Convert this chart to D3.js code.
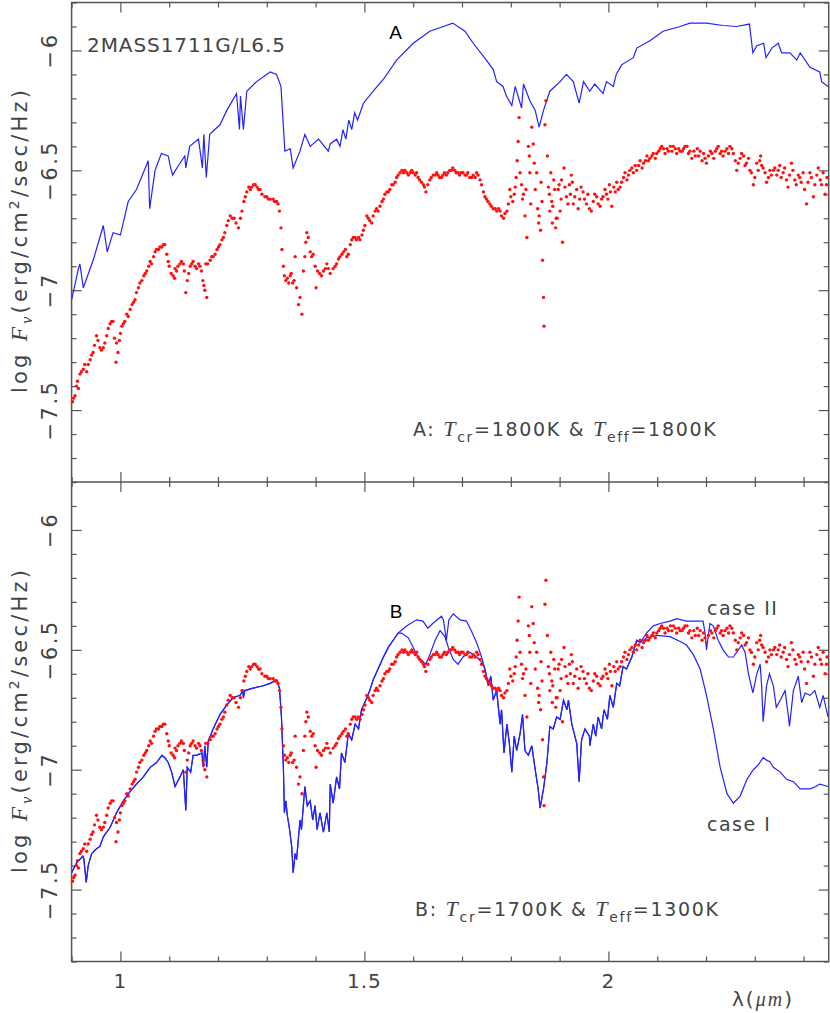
<!DOCTYPE html>
<html>
<head>
<meta charset="utf-8">
<script src="https://cdn.jsdelivr.net/npm/d3@7/dist/d3.min.js"></script>
<style>
  body { margin: 0; background: #fff; }
  svg text { font-family: "DejaVu Sans", "Liberation Sans", sans-serif; fill: #444; }
</style>
</head>
<body>
<svg id="chart"></svg>
<script>
// model spectrum, panel A  [wavelength (um), log F_nu]
const modelA = [[0.9,-7.04],[0.914,-6.91],[0.917,-6.89],[0.924,-6.99],[0.945,-6.87],[0.965,-6.73],[0.973,-6.84],[0.985,-6.76],[1.0,-6.77],
  [1.016,-6.63],[1.033,-6.58],[1.057,-6.46],[1.06,-6.66],[1.071,-6.50],[1.084,-6.43],[1.098,-6.44],[1.102,-6.48],[1.107,-6.52],[1.119,-6.48],
  [1.132,-6.44],[1.134,-6.49],[1.142,-6.40],[1.160,-6.37],[1.168,-6.49],[1.171,-6.35],[1.176,-6.53],[1.183,-6.35],[1.204,-6.31],[1.218,-6.25],
  [1.238,-6.18],[1.244,-6.33],[1.246,-6.19],[1.252,-6.33],[1.259,-6.17],[1.279,-6.13],[1.307,-6.09],[1.320,-6.10],[1.329,-6.15],[1.337,-6.42],
  [1.348,-6.41],[1.354,-6.49],[1.368,-6.42],[1.378,-6.35],[1.389,-6.40],[1.406,-6.37],[1.426,-6.42],[1.43,-6.39],[1.443,-6.37],[1.45,-6.40],
  [1.456,-6.33],[1.462,-6.37],[1.468,-6.29],[1.474,-6.33],[1.48,-6.26],[1.486,-6.29],[1.498,-6.22],[1.518,-6.17],[1.539,-6.12],[1.566,-6.04],
  [1.600,-5.97],[1.634,-5.92],[1.662,-5.90],[1.681,-5.886],[1.706,-5.92],[1.723,-5.97],[1.750,-6.04],[1.764,-6.08],[1.771,-6.13],[1.784,-6.15],
  [1.791,-6.19],[1.802,-6.23],[1.809,-6.15],[1.822,-6.24],[1.826,-6.14],[1.839,-6.21],[1.850,-6.25],[1.858,-6.32],[1.867,-6.25],[1.880,-6.17],
  [1.901,-6.13],[1.914,-6.10],[1.928,-6.13],[1.940,-6.22],[1.949,-6.13],[1.962,-6.17],[1.972,-6.14],[1.989,-6.18],[1.996,-6.13],[2.010,-6.15],
  [2.016,-6.10],[2.027,-6.06],[2.051,-6.03],[2.058,-5.99],[2.085,-5.96],[2.112,-5.92],[2.147,-5.90],[2.167,-5.886],[2.201,-5.886],[2.235,-5.896],
  [2.263,-5.90],[2.289,-5.89],[2.296,-6.01],[2.304,-5.98],[2.318,-5.97],[2.323,-6.03],[2.335,-5.99],[2.348,-5.97],[2.355,-6.01],[2.372,-6.01],
  [2.386,-6.04],[2.393,-6.01],[2.413,-6.07],[2.433,-6.09],[2.437,-6.13],[2.45,-6.15]];

// observed spectrum of 2MASS1711 (drawn in both panels)
const observed = [[0.902,-7.465],[0.907,-7.44],[0.910,-7.40],[0.917,-7.35],[0.924,-7.33],[0.931,-7.34],[0.938,-7.29],[0.944,-7.26],[0.951,-7.19],
  [0.958,-7.24],[0.965,-7.24],[0.972,-7.19],[0.979,-7.14],[0.985,-7.13],[0.991,-7.30],[0.992,-7.22],[0.998,-7.21],[1.003,-7.15],[1.009,-7.13],
  [1.020,-7.08],[1.030,-7.04],[1.037,-6.99],[1.044,-6.96],[1.054,-6.92],[1.064,-6.89],[1.074,-6.83],[1.085,-6.82],[1.091,-6.81],[1.095,-6.85],
  [1.100,-6.90],[1.108,-6.94],[1.115,-6.92],[1.122,-6.89],[1.129,-6.89],[1.134,-7.01],[1.137,-6.96],[1.146,-6.89],[1.153,-6.90],[1.163,-6.90],
  [1.169,-6.96],[1.173,-7.00],[1.177,-7.03],[1.175,-6.89],[1.184,-6.875],[1.194,-6.85],[1.204,-6.81],[1.214,-6.76],[1.225,-6.69],[1.233,-6.70],
  [1.242,-6.74],[1.249,-6.67],[1.253,-6.63],[1.259,-6.59],[1.269,-6.57],[1.276,-6.56],[1.286,-6.58],[1.296,-6.61],[1.307,-6.62],[1.320,-6.63],
  [1.326,-6.67],[1.329,-6.74],[1.331,-6.83],[1.334,-6.90],[1.339,-6.96],[1.348,-6.94],[1.353,-6.97],[1.358,-6.86],[1.361,-6.99],[1.365,-7.06],
  [1.372,-7.10],[1.375,-6.92],[1.378,-6.86],[1.382,-6.76],[1.389,-6.84],[1.399,-6.90],[1.401,-6.99],[1.412,-6.94],[1.426,-6.91],[1.430,-6.93],
  [1.443,-6.89],[1.457,-6.84],[1.467,-6.85],[1.477,-6.78],[1.491,-6.79],[1.498,-6.75],[1.505,-6.69],[1.515,-6.72],[1.522,-6.67],[1.532,-6.65],
  [1.542,-6.60],[1.552,-6.58],[1.563,-6.55],[1.573,-6.51],[1.587,-6.51],[1.600,-6.51],[1.610,-6.53],[1.617,-6.55],[1.626,-6.59],[1.634,-6.54],
  [1.645,-6.52],[1.658,-6.53],[1.668,-6.52],[1.681,-6.49],[1.692,-6.51],[1.702,-6.51],[1.716,-6.53],[1.733,-6.52],[1.740,-6.56],[1.747,-6.61],
  [1.757,-6.64],[1.768,-6.66],[1.778,-6.67],[1.785,-6.70],[1.792,-6.67],[1.798,-6.58],[1.804,-6.63],[1.809,-6.57],[1.813,-6.46],[1.815,-6.38],
  [1.817,-6.28],[1.819,-6.51],[1.822,-6.56],[1.826,-6.60],[1.829,-6.69],[1.833,-6.78],[1.836,-6.40],[1.838,-6.44],[1.839,-6.51],[1.841,-6.64],
  [1.843,-6.32],[1.846,-6.39],[1.850,-6.58],[1.853,-6.51],[1.858,-6.69],[1.861,-6.75],[1.864,-6.63],[1.865,-6.875],[1.867,-7.03],[1.868,-7.15],
  [1.870,-6.31],[1.872,-6.21],[1.875,-6.44],[1.877,-6.57],[1.880,-6.67],[1.884,-6.63],[1.888,-6.54],[1.892,-6.74],[1.897,-6.58],[1.901,-6.67],
  [1.904,-6.54],[1.906,-6.80],[1.909,-6.49],[1.914,-6.61],[1.920,-6.56],[1.924,-6.52],[1.928,-6.64],[1.935,-6.58],[1.941,-6.62],[1.948,-6.59],
  [1.955,-6.64],[1.961,-6.66],[1.969,-6.63],[1.976,-6.61],[1.983,-6.65],[1.989,-6.61],[1.996,-6.60],[2.002,-6.56],[2.007,-6.65],[2.014,-6.59],
  [2.024,-6.57],[2.031,-6.53],[2.038,-6.54],[2.048,-6.49],[2.058,-6.50],[2.072,-6.47],[2.085,-6.45],[2.099,-6.43],[2.109,-6.40],[2.123,-6.42],
  [2.133,-6.40],[2.147,-6.42],[2.157,-6.40],[2.167,-6.42],[2.178,-6.44],[2.188,-6.42],[2.201,-6.47],[2.212,-6.43],[2.225,-6.40],[2.235,-6.44],
  [2.249,-6.40],[2.256,-6.43],[2.263,-6.50],[2.273,-6.43],[2.283,-6.47],[2.293,-6.51],[2.297,-6.56],[2.304,-6.47],[2.312,-6.44],[2.317,-6.49],
  [2.324,-6.55],[2.331,-6.50],[2.341,-6.49],[2.351,-6.48],[2.358,-6.51],[2.368,-6.57],[2.375,-6.47],[2.382,-6.54],[2.392,-6.53],[2.406,-6.64],
  [2.413,-6.51],[2.420,-6.61],[2.430,-6.49],[2.437,-6.56],[2.444,-6.60],[2.448,-6.53],
  [0.904,-7.45],[0.912,-7.38],[0.914,-7.41],[0.920,-7.34],[0.927,-7.31],[0.934,-7.31],[0.941,-7.27],[0.947,-7.23],[0.954,-7.21],[0.961,-7.25],
  [0.968,-7.22],[0.975,-7.16],[0.982,-7.13],[0.988,-7.20],[0.995,-7.26],[1.0,-7.18],[1.006,-7.14],[1.013,-7.10],[1.016,-7.11],[1.024,-7.06],
  [1.027,-7.05],[1.033,-7.01],[1.040,-6.97],[1.048,-6.94],[1.051,-6.93],[1.058,-6.90],[1.061,-6.88],[1.068,-6.86],[1.071,-6.84],[1.078,-6.83],
  [1.081,-6.82],[1.088,-6.81],[1.098,-6.88],[1.104,-6.93],[1.111,-6.95],[1.112,-6.91],[1.118,-6.90],[1.125,-6.88],[1.131,-6.92],[1.140,-6.93],
  [1.143,-6.90],[1.149,-6.88],[1.156,-6.91],[1.160,-6.89],[1.166,-6.92],[1.171,-6.98],[1.179,-6.89],[1.187,-6.86],[1.190,-6.86],[1.198,-6.83],
  [1.201,-6.82],[1.208,-6.79],[1.211,-6.78],[1.218,-6.73],[1.221,-6.71],[1.229,-6.70],[1.237,-6.72],[1.246,-6.70],[1.256,-6.61],[1.263,-6.57],
  [1.266,-6.58],[1.273,-6.56],[1.280,-6.57],[1.283,-6.58],[1.290,-6.60],[1.300,-6.61],[1.303,-6.62],[1.313,-6.62],[1.316,-6.63],[1.323,-6.64],
  [1.336,-6.94],[1.342,-6.95],[1.345,-6.97],[1.350,-6.93],[1.356,-6.96],[1.368,-7.03],[1.380,-6.80],[1.385,-6.78],[1.392,-6.86],[1.395,-6.85],
  [1.404,-6.92],[1.408,-6.93],[1.416,-6.92],[1.420,-6.91],[1.423,-6.89],[1.436,-6.91],[1.440,-6.90],[1.447,-6.87],[1.450,-6.86],[1.454,-6.85],
  [1.461,-6.83],[1.464,-6.86],[1.471,-6.81],[1.474,-6.79],[1.481,-6.78],[1.484,-6.79],[1.488,-6.78],[1.495,-6.77],[1.501,-6.73],[1.508,-6.70],
  [1.511,-6.71],[1.518,-6.69],[1.525,-6.66],[1.528,-6.67],[1.536,-6.63],[1.539,-6.62],[1.546,-6.59],[1.549,-6.59],[1.556,-6.56],[1.559,-6.56],
  [1.566,-6.53],[1.569,-6.52],[1.577,-6.50],[1.580,-6.51],[1.583,-6.50],[1.590,-6.52],[1.594,-6.51],[1.597,-6.50],[1.604,-6.52],[1.607,-6.51],
  [1.613,-6.54],[1.621,-6.56],[1.623,-6.57],[1.630,-6.56],[1.637,-6.53],[1.641,-6.52],[1.648,-6.51],[1.651,-6.52],[1.654,-6.53],[1.661,-6.52],
  [1.664,-6.51],[1.671,-6.51],[1.675,-6.50],[1.678,-6.50],[1.685,-6.50],[1.688,-6.51],[1.695,-6.52],[1.698,-6.51],[1.706,-6.52],[1.709,-6.52],
  [1.712,-6.51],[1.720,-6.53],[1.723,-6.52],[1.727,-6.53],[1.730,-6.51],[1.737,-6.54],[1.744,-6.59],[1.750,-6.62],[1.753,-6.63],[1.760,-6.65],
  [1.764,-6.66],[1.771,-6.67],[1.775,-6.66],[1.781,-6.69],[1.788,-6.68],[1.795,-6.64],[1.800,-6.61],[1.807,-6.60],[1.811,-6.53],[1.824,-6.62],
  [1.831,-6.58],[1.848,-6.47],[1.855,-6.66],[1.857,-6.72],[1.862,-6.55],[1.879,-6.60],[1.882,-6.51],[1.885,-6.72],[1.886,-6.65],[1.890,-6.58],
  [1.893,-6.70],[1.895,-6.70],[1.899,-6.56],[1.903,-6.62],[1.911,-6.57],[1.917,-6.64],[1.922,-6.60],[1.926,-6.55],[1.931,-6.61],[1.938,-6.66],
  [1.944,-6.57],[1.951,-6.62],[1.958,-6.60],[1.965,-6.67],[1.972,-6.60],[1.979,-6.64],[1.986,-6.62],[1.993,-6.58],[1.999,-6.62],[2.004,-6.59],
  [2.011,-6.57],[2.017,-6.55],[2.020,-6.58],[2.027,-6.55],[2.034,-6.51],[2.041,-6.52],[2.044,-6.50],[2.051,-6.51],[2.055,-6.48],[2.062,-6.48],
  [2.065,-6.46],[2.069,-6.49],[2.076,-6.46],[2.079,-6.44],[2.082,-6.46],[2.089,-6.44],[2.092,-6.43],[2.096,-6.45],[2.103,-6.42],[2.106,-6.41],
  [2.113,-6.41],[2.116,-6.43],[2.120,-6.41],[2.127,-6.40],[2.130,-6.42],[2.137,-6.41],[2.140,-6.43],[2.144,-6.41],[2.151,-6.42],[2.154,-6.41],
  [2.161,-6.40],[2.164,-6.43],[2.171,-6.45],[2.175,-6.42],[2.182,-6.41],[2.185,-6.44],[2.192,-6.46],[2.195,-6.43],[2.198,-6.45],[2.205,-6.44],
  [2.209,-6.42],[2.216,-6.45],[2.219,-6.42],[2.222,-6.41],[2.229,-6.43],[2.232,-6.42],[2.239,-6.42],[2.243,-6.41],[2.246,-6.43],[2.253,-6.41],
  [2.260,-6.46],[2.266,-6.47],[2.270,-6.45],[2.277,-6.44],[2.280,-6.48],[2.287,-6.45],[2.290,-6.50],[2.300,-6.53],[2.307,-6.50],[2.310,-6.46],
  [2.314,-6.48],[2.321,-6.51],[2.328,-6.53],[2.334,-6.52],[2.338,-6.50],[2.345,-6.52],[2.348,-6.50],[2.354,-6.53],[2.361,-6.49],[2.365,-6.54],
  [2.371,-6.52],[2.378,-6.50],[2.385,-6.56],[2.389,-6.52],[2.395,-6.55],[2.399,-6.51],[2.402,-6.58],[2.409,-6.55],[2.416,-6.53],[2.423,-6.56],
  [2.427,-6.52],[2.434,-6.54],[2.440,-6.51],[2.447,-6.56]];

// panel B models: shared pieces and the two cases
const sharedB1 = [[0.9,-7.43],[0.910,-7.39],[0.923,-7.36],[0.925,-7.37],[0.930,-7.47],[0.934,-7.40],[0.941,-7.35],[0.951,-7.33],[0.958,-7.32],
  [0.965,-7.28],[0.979,-7.24],[0.992,-7.18],[1.006,-7.13],[1.020,-7.09],[1.033,-7.06],[1.047,-7.03],[1.061,-6.99],[1.074,-6.97],[1.085,-6.94],
  [1.091,-6.95],[1.098,-6.97],[1.105,-7.01],[1.112,-7.07],[1.117,-7.05],[1.122,-7.03],[1.129,-7.00],[1.134,-7.17],[1.137,-6.99],[1.144,-7.01],
  [1.149,-6.94],[1.156,-6.94],[1.167,-6.93],[1.170,-6.99],[1.173,-6.90],[1.177,-6.99],[1.180,-6.88],[1.190,-6.83],[1.204,-6.77],[1.218,-6.73],
  [1.231,-6.70],[1.245,-6.69],[1.251,-6.67],[1.252,-6.70],[1.255,-6.67],[1.272,-6.66],[1.293,-6.65],[1.307,-6.64],[1.320,-6.625],[1.326,-6.66],
  [1.330,-6.78],[1.334,-6.99],[1.336,-7.18],[1.339,-7.13],[1.342,-7.19],[1.346,-7.24],[1.351,-7.32],[1.354,-7.43],[1.358,-7.35],[1.361,-7.375],
  [1.368,-7.21],[1.371,-7.25],[1.378,-7.07],[1.383,-7.15],[1.389,-7.13],[1.394,-7.21],[1.399,-7.15],[1.403,-7.25],[1.409,-7.18],[1.416,-7.26],
  [1.423,-7.18],[1.428,-7.26],[1.430,-7.06],[1.436,-7.14],[1.443,-7.03],[1.449,-7.08],[1.453,-6.93],[1.460,-6.97],[1.467,-6.85],[1.474,-6.875],
  [1.481,-6.81],[1.488,-6.83],[1.494,-6.75],[1.501,-6.72],[1.511,-6.67],[1.518,-6.625],[1.528,-6.58],[1.539,-6.53],[1.549,-6.49],[1.559,-6.46],
  [1.569,-6.43]];
const caseIMid = [[1.576,-6.43],[1.590,-6.45],[1.600,-6.49],[1.610,-6.53],[1.626,-6.56],[1.634,-6.52],[1.645,-6.46],[1.655,-6.42],[1.665,-6.445],
  [1.672,-6.49],[1.682,-6.54],[1.692,-6.56],[1.702,-6.53],[1.716,-6.51],[1.730,-6.53],[1.740,-6.55]];
const caseIIMid = [[1.587,-6.40],[1.607,-6.375],[1.620,-6.38],[1.630,-6.41],[1.640,-6.39],[1.658,-6.36],[1.662,-6.375],[1.668,-6.46],[1.673,-6.375],
  [1.682,-6.35],[1.696,-6.375],[1.709,-6.38],[1.719,-6.42],[1.730,-6.47],[1.740,-6.53]];
const sharedB2 = [[1.747,-6.58],[1.754,-6.65],[1.759,-6.61],[1.764,-6.71],[1.771,-6.67],[1.778,-6.81],[1.781,-6.75],[1.786,-6.93],[1.792,-6.81],
  [1.797,-6.89],[1.802,-7.01],[1.807,-6.86],[1.812,-6.92],[1.819,-6.85],[1.824,-6.77],[1.829,-6.92],[1.836,-6.94],[1.843,-6.90],[1.850,-7.00],
  [1.856,-7.08],[1.860,-7.16],[1.867,-7.08],[1.874,-6.97],[1.880,-6.82],[1.887,-6.83],[1.894,-6.78],[1.901,-6.79],[1.908,-6.71],[1.915,-6.75],
  [1.918,-6.71],[1.925,-6.81],[1.935,-6.89],[1.940,-7.05],[1.945,-6.875],[1.952,-6.83],[1.961,-6.86],[1.962,-6.90],[1.969,-6.81],[1.974,-6.86],
  [1.979,-6.78],[1.986,-6.83],[1.991,-6.75],[1.998,-6.79],[2.003,-6.69],[2.010,-6.74],[2.017,-6.64],[2.023,-6.65],[2.030,-6.57],[2.037,-6.58],
  [2.048,-6.53],[2.058,-6.46],[2.065,-6.47]];
const caseITail = [[2.078,-6.45],[2.099,-6.44],[2.126,-6.445],[2.147,-6.465],[2.160,-6.48],[2.174,-6.52],[2.188,-6.58],[2.201,-6.69],[2.215,-6.83],
  [2.229,-6.99],[2.243,-7.10],[2.256,-7.14],[2.270,-7.11],[2.284,-7.04],[2.297,-7.00],[2.307,-6.98],[2.317,-6.95],[2.324,-6.96],[2.331,-6.967],
  [2.338,-6.99],[2.352,-7.01],[2.365,-7.04],[2.379,-7.05],[2.393,-7.08],[2.413,-7.08],[2.425,-7.07],[2.433,-7.06],[2.45,-7.07]];
const caseIITail = [[2.078,-6.43],[2.092,-6.40],[2.106,-6.39],[2.126,-6.38],[2.140,-6.37],[2.160,-6.38],[2.181,-6.38],[2.194,-6.38],[2.198,-6.43],
  [2.201,-6.50],[2.208,-6.39],[2.215,-6.40],[2.225,-6.46],[2.235,-6.50],[2.246,-6.53],[2.256,-6.53],[2.263,-6.51],[2.273,-6.48],[2.280,-6.51],
  [2.287,-6.60],[2.296,-6.68],[2.304,-6.60],[2.311,-6.56],[2.314,-6.65],[2.317,-6.80],[2.324,-6.65],[2.330,-6.60],[2.338,-6.65],[2.344,-6.74],
  [2.352,-6.71],[2.362,-6.67],[2.369,-6.78],[2.371,-6.82],[2.379,-6.67],[2.389,-6.61],[2.396,-6.72],[2.403,-6.68],[2.413,-6.69],[2.423,-6.67],
  [2.433,-6.74],[2.440,-6.69],[2.45,-6.78]];
const caseI = sharedB1.concat(caseIMid, sharedB2, caseITail);
const caseII = sharedB1.concat(caseIIMid, sharedB2, caseIITail);

const yMajor = [-6, -6.5, -7, -7.5];
const yLabels = ['\u22126', '\u22126.5', '\u22127', '\u22127.5'];
const xMajor = [1, 1.5, 2];
const xLabels = ['1', '1.5', '2'];

const W = 830, H = 1013;
const fr = {left: 71.6, right: 828.7, top: 2.5, mid: 482, bottom: 961.5};
const ink = '#555';

const svg = d3.select('#chart').attr('width', W).attr('height', H);
const x = d3.scaleLinear().domain([0.9, 2.4514]).range([fr.left, fr.right]);
const yA = d3.scaleLinear().domain([-7.8, -5.8]).range([fr.mid, fr.top]);
const yB = d3.scaleLinear().domain([-7.8, -5.8]).range([fr.bottom, fr.mid]);

const xMinor = d3.range(9, 25).map(d => d / 10).filter(d => !xMajor.includes(d));
const yMinor = d3.range(-78, -57).map(d => d / 10).filter(d => !yMajor.includes(d));

// tick helper: draws one axis group and strips its domain/labels
function ticks(axis, tx, ty) {
  const g = svg.append('g').attr('transform', `translate(${tx},${ty})`).call(axis.tickFormat('').tickSizeOuter(0));
  g.select('.domain').remove();
  g.selectAll('line').attr('stroke', ink).attr('stroke-width', 1.2);
  return g;
}

[yA, yB].forEach(y => {
  ticks(d3.axisRight(y).tickValues(yMajor).tickSizeInner(10), fr.left, 0);
  ticks(d3.axisRight(y).tickValues(yMinor).tickSizeInner(5), fr.left, 0);
  ticks(d3.axisLeft(y).tickValues(yMajor).tickSizeInner(10), fr.right, 0);
  ticks(d3.axisLeft(y).tickValues(yMinor).tickSizeInner(5), fr.right, 0);
});
ticks(d3.axisBottom(x).tickValues(xMajor).tickSizeInner(10), 0, fr.top);
ticks(d3.axisBottom(x).tickValues(xMinor).tickSizeInner(5), 0, fr.top);
ticks(d3.axisBottom(x).tickValues(xMajor).tickSizeInner(10), 0, fr.mid);
ticks(d3.axisBottom(x).tickValues(xMinor).tickSizeInner(5), 0, fr.mid);
ticks(d3.axisTop(x).tickValues(xMajor).tickSizeInner(10), 0, fr.mid);
ticks(d3.axisTop(x).tickValues(xMinor).tickSizeInner(5), 0, fr.mid);
ticks(d3.axisTop(x).tickValues(xMajor).tickSizeInner(10), 0, fr.bottom);
ticks(d3.axisTop(x).tickValues(xMinor).tickSizeInner(5), 0, fr.bottom);

// frame
svg.append('rect').attr('x', fr.left).attr('y', fr.top).attr('width', fr.right - fr.left).attr('height', fr.bottom - fr.top)
  .attr('fill', 'none').attr('stroke', ink).attr('stroke-width', 1.5);
svg.append('line').attr('x1', fr.left).attr('x2', fr.right).attr('y1', fr.mid).attr('y2', fr.mid).attr('stroke', ink).attr('stroke-width', 1.5);

// clip per panel
const defs = svg.append('defs');
defs.append('clipPath').attr('id', 'clipA').append('rect').attr('x', fr.left).attr('y', fr.top).attr('width', fr.right - fr.left).attr('height', fr.mid - fr.top);
defs.append('clipPath').attr('id', 'clipB').append('rect').attr('x', fr.left).attr('y', fr.mid).attr('width', fr.right - fr.left).attr('height', fr.bottom - fr.mid);

function panel(y, clip, models) {
  const g = svg.append('g').attr('clip-path', `url(#${clip})`);
  const line = d3.line().x(d => x(d[0])).y(d => y(d[1]));
  models.forEach(m => g.append('path').datum(m).attr('d', line).attr('fill', 'none').attr('stroke', '#2222ff').attr('stroke-width', 1.2));
  g.selectAll('circle').data(observed).join('circle')
    .attr('cx', d => x(d[0])).attr('cy', d => y(d[1])).attr('r', 1.7).attr('fill', '#ff1010');
}
panel(yA, 'clipA', [modelA]);
panel(yB, 'clipB', [caseI, caseII]);

// y tick labels (rotated) and y titles
[yA, yB].forEach((y, p) => {
  yMajor.forEach((v, i) => {
    svg.append('text').attr('transform', `translate(57,${y(v)}) rotate(-90)`).attr('text-anchor', 'middle')
      .attr('font-size', 21).attr('letter-spacing', 2.5).text(yLabels[i]);
  });
  const t = svg.append('text').attr('transform', `translate(27,${p ? 720 : 240}) rotate(-90)`).attr('text-anchor', 'middle')
    .attr('font-size', 21).attr('letter-spacing', 3.2);
  t.append('tspan').text('log ');
  t.append('tspan').attr('font-family', 'Liberation Serif').attr('font-style', 'italic').attr('font-size', 24).text('F');
  t.append('tspan').attr('dy', 5).attr('font-size', 16).attr('font-family', 'Liberation Serif').attr('font-style', 'italic').text('\u03bd');
  t.append('tspan').attr('dy', -5).text('(erg/cm');
  t.append('tspan').attr('dy', -8).attr('font-size', 14).text('2');
  t.append('tspan').attr('dy', 8).text('/sec/Hz)');
});

// x tick labels
xMajor.forEach((v, i) => svg.append('text').attr('x', x(v)).attr('y', 988).attr('text-anchor', 'middle').attr('font-size', 20)
  .attr('letter-spacing', 1).text(xLabels[i]));
const xl = svg.append('text').attr('x', 763).attr('y', 1006).attr('text-anchor', 'middle').attr('font-size', 20).attr('letter-spacing', 2);
xl.append('tspan').text('\u03bb(');
xl.append('tspan').attr('font-family', 'Liberation Serif').attr('font-style', 'italic').text('\u03bcm');
xl.append('tspan').text(')');

// annotations
svg.append('text').attr('x', 87).attr('y', 52).attr('font-size', 20).attr('textLength', 198).text('2MASS1711G/L6.5');
svg.append('text').attr('x', 395.5).attr('y', 39).attr('text-anchor', 'middle').attr('font-size', 19)
  .style('font-family', 'Liberation Sans').style('fill', '#000').text('A');
svg.append('text').attr('x', 396).attr('y', 618).attr('text-anchor', 'middle').attr('font-size', 19)
  .style('font-family', 'Liberation Sans').style('fill', '#000').text('B');

function tempLabel(tx, ty, lead, tcr, teff) {
  const t = svg.append('text').attr('x', tx).attr('y', ty).attr('font-size', 19).attr('letter-spacing', 1.7);
  t.append('tspan').text(lead + '  ');
  t.append('tspan').attr('font-family', 'Liberation Serif').attr('font-style', 'italic').attr('font-size', 22).text('T');
  t.append('tspan').attr('dy', 6).attr('font-size', 14).text('cr');
  t.append('tspan').attr('dy', -6).text('=' + tcr + '  &  ');
  t.append('tspan').attr('font-family', 'Liberation Serif').attr('font-style', 'italic').attr('font-size', 22).text('T');
  t.append('tspan').attr('dy', 6).attr('font-size', 14).text('eff');
  t.append('tspan').attr('dy', -6).text('=' + teff);
}
tempLabel(413, 436, 'A:', '1800K', '1800K');
tempLabel(415, 916, 'B:', '1700K', '1300K');

svg.append('text').attr('x', 707).attr('y', 615).attr('font-size', 19).attr('letter-spacing', 1.5).text('case  II');
svg.append('text').attr('x', 707).attr('y', 831).attr('font-size', 19).attr('letter-spacing', 1.5).text('case  I');
</script>
</body>
</html>
